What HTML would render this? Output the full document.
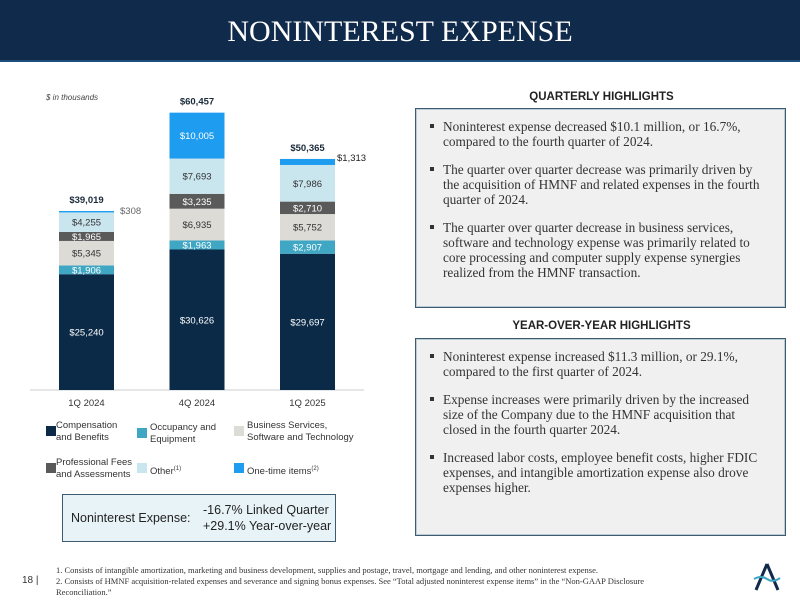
<!DOCTYPE html>
<html><head><meta charset="utf-8">
<style>
body{margin:0;width:800px;height:600px;background:#fff;position:relative;overflow:hidden;font-family:"Liberation Sans",sans-serif}
.hdr{position:absolute;left:0;top:0;width:800px;height:60px;background:#0f2a4a;border-bottom:2px solid #1d4f7a}
.hdr h1{margin:0;position:absolute;left:0;right:0;top:15px;text-align:center;color:#fff;font-family:"Liberation Serif",serif;font-weight:normal;font-size:30px;letter-spacing:0px}
.box{position:absolute;left:415px;width:371px;background:#f0f0f0;border:1.5px solid #3d5a6e;box-shadow:0 0 0 1px #b9ccd6 inset}
.ht{position:absolute;left:415px;width:373px;text-align:center;font-weight:bold;font-size:11.5px;color:#222}
ul{margin:0;padding:0;list-style:none}
li{position:relative;padding-left:27px;font-family:"Liberation Serif",serif;font-size:13.3px;line-height:15px;color:#333;margin-bottom:13px;padding-right:22px}
li:before{content:"";position:absolute;left:14px;top:5px;width:4px;height:4px;background:#333}
.leg{position:absolute;font-size:9.5px;color:#333;line-height:12px}
.sw{position:absolute;width:10px;height:10px}
.foot{position:absolute;left:56px;font-family:"Liberation Serif",serif;font-size:8.5px;color:#333}
</style></head><body>
<div class="hdr"><h1>NONINTEREST EXPENSE</h1></div>

<svg id="chart" width="400" height="420" style="position:absolute;left:0;top:80px" viewBox="0 80 400 420"></svg>

<div class="leg" style="left:56px;top:420px"><span class="sw" style="left:-10px;top:6px;background:#0b2a47"></span>Compensation<br>and Benefits</div>
<div class="leg" style="left:150px;top:422px"><span class="sw" style="left:-13px;top:6px;background:#3fa6c3"></span>Occupancy and<br>Equipment</div>
<div class="leg" style="left:247px;top:420px"><span class="sw" style="left:-13px;top:6px;background:#dcdbd6"></span>Business Services,<br>Software and Technology</div>
<div class="leg" style="left:56px;top:457px"><span class="sw" style="left:-10px;top:6px;background:#5a5a5a"></span>Professional Fees<br>and Assessments</div>
<div class="leg" style="left:150px;top:463px"><span class="sw" style="left:-13px;top:0px;background:#c9e6ef"></span>Other<sup style="font-size:6px">(1)</sup></div>
<div class="leg" style="left:247px;top:463px"><span class="sw" style="left:-13px;top:0px;background:#1e9cf0"></span>One-time items<sup style="font-size:6px">(2)</sup></div>

<div style="position:absolute;left:62px;top:494px;width:272px;height:46px;background:#e8f3f8;border:1.5px solid #3d5a6e">
<div style="position:absolute;left:8px;top:16px;font-size:12.5px;color:#222">Noninterest Expense:</div>
<div style="position:absolute;left:140px;top:7px;font-size:12.5px;color:#222;line-height:16px">-16.7% Linked Quarter<br>+29.1% Year-over-year</div>
</div>

<div class="ht" style="top:91px">QUARTERLY HIGHLIGHTS</div>
<div class="box" style="top:108px;height:200px;padding-top:10px;box-sizing:border-box">
<ul>
<li>Noninterest expense decreased $10.1 million, or 16.7%, compared to the fourth quarter of 2024.</li>
<li>The quarter over quarter decrease was primarily driven by the acquisition of HMNF and related expenses in the fourth quarter of 2024.</li>
<li>The quarter over quarter decrease in business services, software and technology expense was primarily related to core processing and computer supply expense synergies realized from the HMNF transaction.</li>
</ul></div>

<div class="ht" style="top:320px">YEAR-OVER-YEAR HIGHLIGHTS</div>
<div class="box" style="top:338px;height:198px;padding-top:10px;box-sizing:border-box">
<ul>
<li>Noninterest expense increased $11.3 million, or 29.1%, compared to the first quarter of 2024.</li>
<li>Expense increases were primarily driven by the increased size of the Company due to the HMNF acquisition that closed in the fourth quarter 2024.</li>
<li>Increased labor costs, employee benefit costs, higher FDIC expenses, and intangible amortization expense also drove expenses higher.</li>
</ul></div>

<div class="foot" style="top:565px">1. Consists of intangible amortization, marketing and business development, supplies and postage, travel, mortgage and lending, and other noninterest expense.</div>
<div class="foot" style="top:576px;width:610px;line-height:11px">2. Consists of HMNF acquisition-related expenses and severance and signing bonus expenses. See “Total adjusted noninterest expense items” in the “Non-GAAP Disclosure Reconciliation.”</div>
<div style="position:absolute;left:22px;top:575px;font-size:10px;color:#333">18 |</div>
<svg style="position:absolute;left:752px;top:562px" width="30" height="30">
<path d="M15 2 L4 28 M15 2 L26 28" stroke="#0f2a4a" stroke-width="3" fill="none"/>
<path d="M2 17 Q9 13 15 17 T28 16" stroke="#3fa6c3" stroke-width="2" fill="none"/>
</svg>

<script>
const categories=["1Q 2024","4Q 2024","1Q 2025"];
const compensation=[25240,30626,29697];
const occupancy=[1906,1963,2907];
const business=[5345,6935,5752];
const professional=[1965,3235,2710];
const other=[4255,7693,7986];
const oneTime=[308,10005,1313];
const totals=[39019,60457,50365];
const seriesNames=["compensation","occupancy","business-services","professional-fees","other","one-time"];
const series=[compensation,occupancy,business,professional,other,oneTime];
const colors=["#0b2a47","#3fa6c3","#dcdbd6","#5a5a5a","#c9e6ef","#1e9cf0"];
const textColors=["#fff","#fff","#333","#fff","#333","#fff"];
const svg=document.getElementById('chart');
const NS="http://www.w3.org/2000/svg";
const baseY=390, k=179/39019;
function y(v){return baseY-v*k;}
function xc(i){return 86.5+i*110.5;}
const bw=55;
function el(t,a){const e=document.createElementNS(NS,t);for(const n in a)e.setAttribute(n,a[n]);svg.appendChild(e);return e;}
const ax=el('line',{x1:30,x2:364,y1:baseY,y2:baseY,stroke:'#ccc','stroke-width':1});


const note=el('text',{x:46,y:100,'font-size':8,'font-style':'italic',fill:'#444'});
note.textContent='$ in thousands';


categories.forEach((c,i)=>{
  let cum=0;
  series.forEach((s,j)=>{
    const v=s[i];
    const r=el('rect',{x:xc(i)-bw/2,y:y(cum+v),width:bw,height:v*k,fill:colors[j]});
    
    
    const mid=y(cum+v/2);
    let t;
    if(j===5&&v<5000){
      t=el('text',{x:xc(i)+bw/2+(i===0?6:2),y:y(cum+v)+(i===0?3:2),'font-size':9.5,fill:i===0?'#666':'#222'});
    } else {
      t=el('text',{x:xc(i),y:mid+3.5,'font-size':9.5,'text-anchor':'middle',fill:textColors[j]});
    }
    t.textContent='$'+v.toLocaleString('en-US');
    
    
    cum+=v;
  });
  const tt=el('text',{x:xc(i),y:y(totals[i])-8,'font-size':9.5,'font-weight':'bold','text-anchor':'middle',fill:'#1a2a3a'});
  tt.textContent='$'+totals[i].toLocaleString('en-US');
  
  
  const xl=el('text',{x:xc(i),y:baseY+16,'font-size':9.5,'text-anchor':'middle',fill:'#333'});
  xl.textContent=c;
  
  
});
</script>
</body></html>
